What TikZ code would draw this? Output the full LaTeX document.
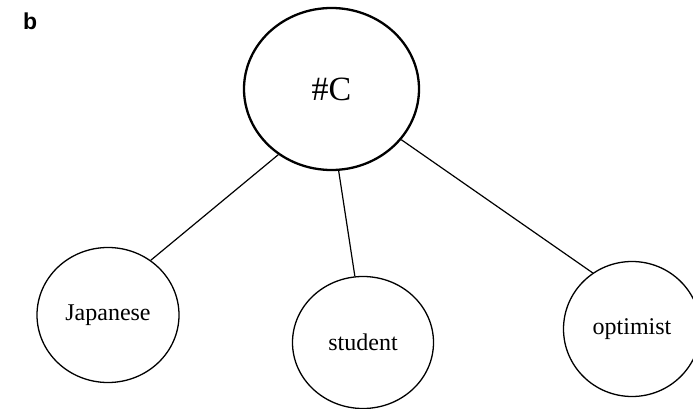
\documentclass[tikz,border=0pt]{standalone}
\usepackage{fontspec}
\setmainfont{Liberation Serif}
\newfontfamily\panelfont{Liberation Sans}
\usetikzlibrary{shapes.geometric}
\begin{document}
\begin{tikzpicture}[x=1pt,y=-1pt,
  concept/.style={draw, ellipse, inner sep=0pt, line width=1.3pt,
    font=\fontsize{24}{28}\selectfont},
  root/.style={concept, line width=2.3pt, font=\fontsize{34}{40}\selectfont},
  link/.style={line width=1.2pt}]
\clip (0,0) rectangle (693,409);
% panel letter
\node[font=\panelfont\bfseries\fontsize{23}{27}\selectfont, anchor=base west,
  inner sep=0pt] (panel) at (23,30) {b};
% concept nodes
\node[root, minimum width=175pt, minimum height=162pt] (c) at (331.5,89) {\#C};
\node[concept, minimum width=142pt, minimum height=135pt] (jap) at (108,315) {Japanese};
\node[concept, minimum width=141pt, minimum height=132pt] (stu) at (363,342.5) {student};
\node[concept, minimum width=137pt, minimum height=135pt] (opt) at (632,329) {optimist};
% links
\draw[link] (c.231) -- (jap.52);
\draw[link] (c.275) -- (stu.97);
\draw[link] (c.324) -- (opt.125);
\end{tikzpicture}
\end{document}
